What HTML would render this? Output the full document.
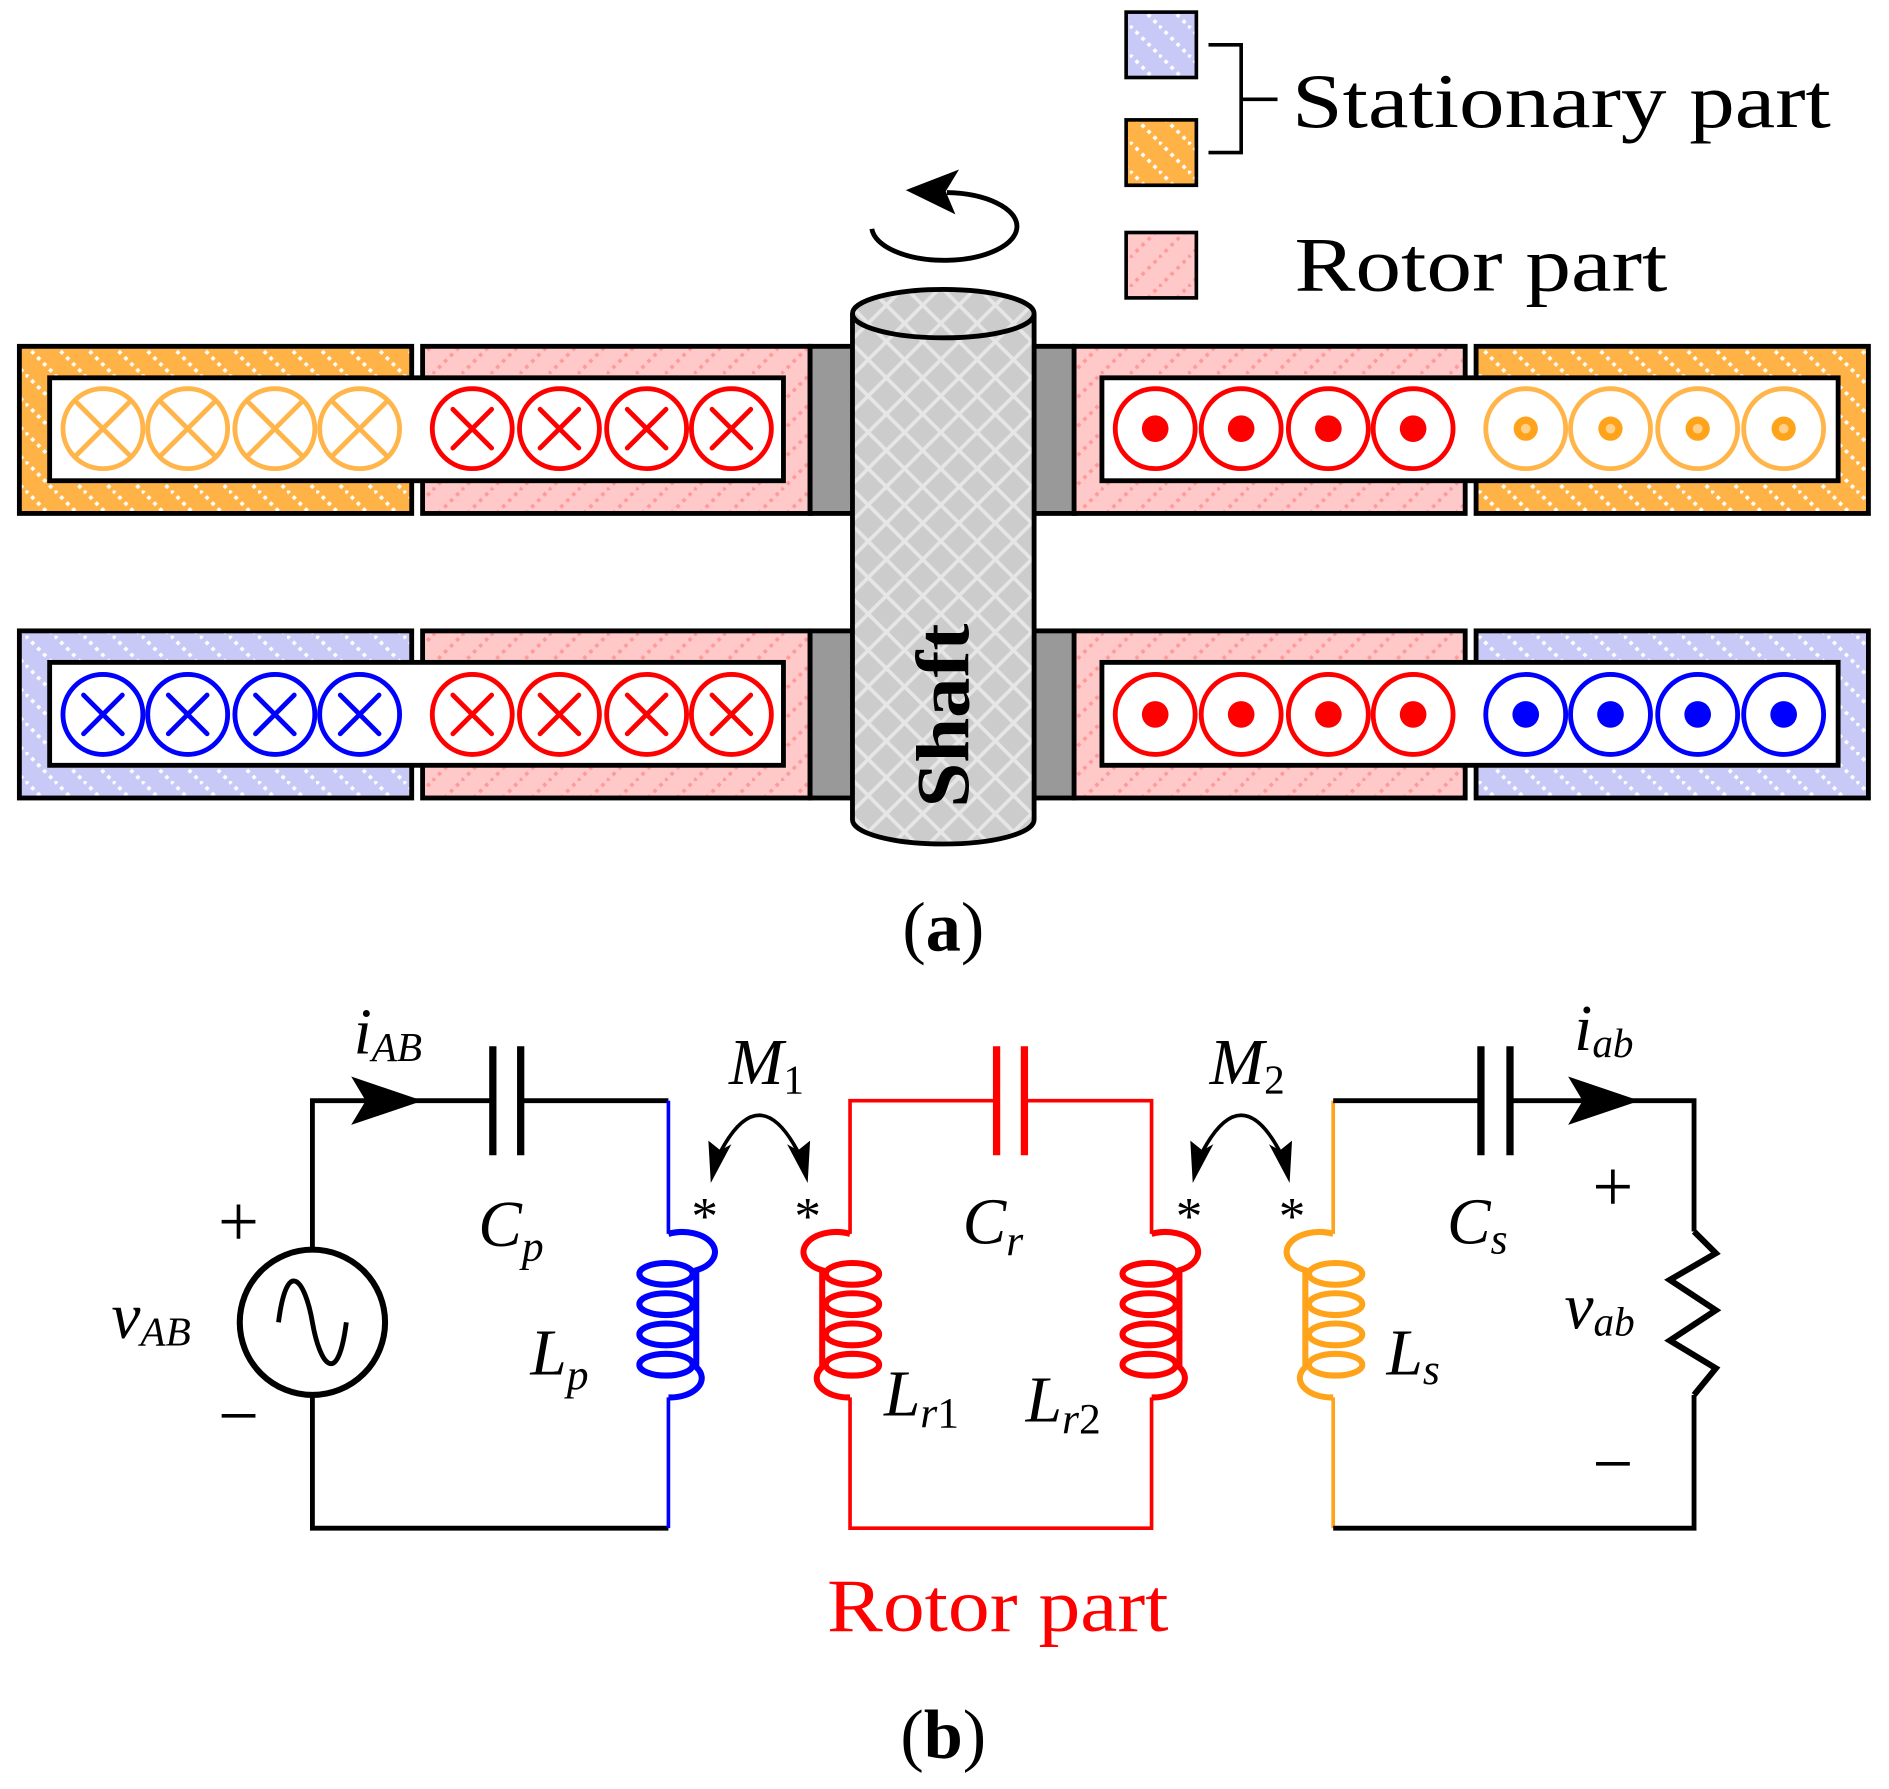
<!DOCTYPE html>
<html><head><meta charset="utf-8"><style>
html,body{margin:0;padding:0;background:#fff}
svg{display:block}
text{font-family:"Liberation Serif",serif}
.m{font-style:italic}
</style></head><body>
<svg width="1889" height="1789" viewBox="0 0 1560 1477.4" xmlns="http://www.w3.org/2000/svg">
<defs>
<pattern id="po" width="24" height="24" patternUnits="userSpaceOnUse"><rect width="24" height="24" fill="#FFB347"/><path d="M0,0 L24,24" stroke="#fff" stroke-width="3" stroke-dasharray="3 4"/></pattern>
<pattern id="pp" width="24" height="24" patternUnits="userSpaceOnUse"><rect width="24" height="24" fill="#FFC9C9"/><path d="M0,24 L24,0" stroke="#FF9A9A" stroke-width="3" stroke-dasharray="3 4"/></pattern>
<pattern id="pb" width="24" height="24" patternUnits="userSpaceOnUse"><rect width="24" height="24" fill="#C9C9F7"/><path d="M0,0 L24,24" stroke="#fff" stroke-width="3" stroke-dasharray="3 4"/></pattern>
<pattern id="ps" width="30" height="30" patternUnits="userSpaceOnUse"><rect width="30" height="30" fill="#CCCCCC"/><path d="M0,30 L30,0 M0,0 L30,30" stroke="#E6E6E6" stroke-width="3"/></pattern>
<g id="coilR" fill="none" stroke-width="5">
<path d="M0,0 A26,16 0 0 1 23,30 L23,110 A26,16 0 0 1 0,135"/>
<ellipse cx="-2" cy="33" rx="22" ry="9"/><ellipse cx="-2" cy="58" rx="22" ry="9"/><ellipse cx="-2" cy="83" rx="22" ry="9"/><ellipse cx="-2" cy="108" rx="22" ry="9"/>
</g>
</defs>
<g transform="translate(-3,-3)">
<!-- legend -->
<rect x="933" y="13" width="58" height="54" fill="url(#pb)" stroke="#000" stroke-width="3"/>
<rect x="933" y="102" width="58" height="54" fill="url(#po)" stroke="#000" stroke-width="3"/>
<rect x="933" y="195" width="58" height="54" fill="url(#pp)" stroke="#000" stroke-width="3"/>
<path d="M1001,40 H1028 V129 H1001 M1028,85 H1058" fill="none" stroke="#000" stroke-width="3"/>
<text x="1070" y="108" font-size="64" textLength="445" lengthAdjust="spacingAndGlyphs">Stationary part</text>
<text x="1072" y="243" font-size="64" textLength="308" lengthAdjust="spacingAndGlyphs">Rotor part</text>

<!-- rotation arrow -->
<path d="M723,192 A60,28 0 1 0 785,162" fill="none" stroke="#000" stroke-width="4"/>
<path d="M751,160 L795,143 L784,161 L792,180 Z" fill="#000"/>

<!-- top row -->
<rect x="19" y="289" width="324" height="138" fill="url(#po)" stroke="#000" stroke-width="4"/>
<rect x="352" y="289" width="320" height="138" fill="url(#pp)" stroke="#000" stroke-width="4"/>
<rect x="672" y="289" width="36" height="138" fill="#999" stroke="#000" stroke-width="4"/>
<rect x="44" y="315" width="606" height="85" fill="#fff" stroke="#000" stroke-width="4"/>
<rect x="890" y="289" width="323" height="138" fill="url(#pp)" stroke="#000" stroke-width="4"/>
<rect x="1222" y="289" width="324" height="138" fill="url(#po)" stroke="#000" stroke-width="4"/>
<rect x="857" y="289" width="33" height="138" fill="#999" stroke="#000" stroke-width="4"/>
<rect x="913" y="315" width="608" height="85" fill="#fff" stroke="#000" stroke-width="4"/>

<!-- bottom row -->
<rect x="19" y="524" width="324" height="138" fill="url(#pb)" stroke="#000" stroke-width="4"/>
<rect x="352" y="524" width="320" height="138" fill="url(#pp)" stroke="#000" stroke-width="4"/>
<rect x="672" y="524" width="36" height="138" fill="#999" stroke="#000" stroke-width="4"/>
<rect x="44" y="550" width="606" height="85" fill="#fff" stroke="#000" stroke-width="4"/>
<rect x="890" y="524" width="323" height="138" fill="url(#pp)" stroke="#000" stroke-width="4"/>
<rect x="1222" y="524" width="324" height="138" fill="url(#pb)" stroke="#000" stroke-width="4"/>
<rect x="857" y="524" width="33" height="138" fill="#999" stroke="#000" stroke-width="4"/>
<rect x="913" y="550" width="608" height="85" fill="#fff" stroke="#000" stroke-width="4"/>

<!-- conductor circles -->
<g fill="none" stroke-width="4" stroke-linecap="round">
<g stroke="#FFB54A">
<circle cx="88" cy="357" r="33"/><circle cx="158" cy="357" r="33"/><circle cx="230" cy="357" r="33"/><circle cx="300" cy="357" r="33"/>
<path d="M65,334 l46,46 m0,-46 l-46,46 M135,334 l46,46 m0,-46 l-46,46 M207,334 l46,46 m0,-46 l-46,46 M277,334 l46,46 m0,-46 l-46,46"/>
<circle cx="1263" cy="357" r="33"/><circle cx="1333" cy="357" r="33"/><circle cx="1405" cy="357" r="33"/><circle cx="1476" cy="357" r="33"/>
</g>
<g stroke="#f00">
<circle cx="393" cy="357" r="33"/><circle cx="465" cy="357" r="33"/><circle cx="537" cy="357" r="33"/><circle cx="607" cy="357" r="33"/>
<path d="M377,341 l32,32 m0,-32 l-32,32 M449,341 l32,32 m0,-32 l-32,32 M521,341 l32,32 m0,-32 l-32,32 M591,341 l32,32 m0,-32 l-32,32"/>
<circle cx="957" cy="357" r="33"/><circle cx="1028" cy="357" r="33"/><circle cx="1100" cy="357" r="33"/><circle cx="1170" cy="357" r="33"/>
<circle cx="393" cy="593" r="33"/><circle cx="465" cy="593" r="33"/><circle cx="537" cy="593" r="33"/><circle cx="607" cy="593" r="33"/>
<path d="M377,577 l32,32 m0,-32 l-32,32 M449,577 l32,32 m0,-32 l-32,32 M521,577 l32,32 m0,-32 l-32,32 M591,577 l32,32 m0,-32 l-32,32"/>
<circle cx="957" cy="593" r="33"/><circle cx="1028" cy="593" r="33"/><circle cx="1100" cy="593" r="33"/><circle cx="1170" cy="593" r="33"/>
</g>
<g stroke="#00f">
<circle cx="88" cy="593" r="33"/><circle cx="158" cy="593" r="33"/><circle cx="230" cy="593" r="33"/><circle cx="300" cy="593" r="33"/>
<path d="M72,577 l32,32 m0,-32 l-32,32 M142,577 l32,32 m0,-32 l-32,32 M214,577 l32,32 m0,-32 l-32,32 M284,577 l32,32 m0,-32 l-32,32"/>
<circle cx="1263" cy="593" r="33"/><circle cx="1333" cy="593" r="33"/><circle cx="1405" cy="593" r="33"/><circle cx="1476" cy="593" r="33"/>
</g>
</g>
<g fill="#f00"><circle cx="957" cy="357" r="11"/><circle cx="1028" cy="357" r="11"/><circle cx="1100" cy="357" r="11"/><circle cx="1170" cy="357" r="11"/>
<circle cx="957" cy="593" r="11"/><circle cx="1028" cy="593" r="11"/><circle cx="1100" cy="593" r="11"/><circle cx="1170" cy="593" r="11"/></g>
<g fill="#FFA31A"><circle cx="1263" cy="357" r="10"/><circle cx="1333" cy="357" r="10"/><circle cx="1405" cy="357" r="10"/><circle cx="1476" cy="357" r="10"/></g>
<g fill="#FFD08A"><circle cx="1263" cy="357" r="4"/><circle cx="1333" cy="357" r="4"/><circle cx="1405" cy="357" r="4"/><circle cx="1476" cy="357" r="4"/></g>
<g fill="#00f"><circle cx="1263" cy="593" r="11"/><circle cx="1333" cy="593" r="11"/><circle cx="1405" cy="593" r="11"/><circle cx="1476" cy="593" r="11"/></g>

<!-- shaft -->
<path d="M707,262 V680 A75,20 0 0 0 857,680 V262" fill="url(#ps)" stroke="#000" stroke-width="4"/>
<ellipse cx="782" cy="262" rx="75" ry="20" fill="url(#ps)" stroke="#000" stroke-width="4"/>
<text transform="translate(803,670) rotate(-90)" font-size="62" font-weight="bold" textLength="152" lengthAdjust="spacingAndGlyphs">Shaft</text>

<text x="782" y="788" font-size="58" text-anchor="middle">(<tspan font-weight="bold">a</tspan>)</text>

<!-- circuit -->
<g fill="none" stroke-width="4">
<path d="M555,912 H433 M410,912 H261 V1035 M261,1155 V1265 H555" stroke="#000"/>
<path d="M410,867 V957 M433,867 V957" stroke="#000" stroke-width="6"/>
<circle cx="261" cy="1095" r="60" stroke="#000" stroke-width="5"/>
<path d="M233,1095 C240,1040 255,1060 261,1095 C267,1130 282,1150 289,1095" stroke="#000" stroke-width="4"/>
<path d="M555,912 V1022 M555,1157 V1265" stroke="#00f" stroke-width="3"/>
<path d="M705,1022 V912 H826 M849,912 H954 V1022 M705,1157 V1265 H954 V1157" stroke="#f00" stroke-width="3"/>
<path d="M826,867 V957 M849,867 V957" stroke="#f00" stroke-width="6"/>
<path d="M1104,1022 V912" stroke="#FFA31A" stroke-width="3"/>
<path d="M1104,1157 V1265" stroke="#FFA31A" stroke-width="3"/>
<path d="M1104,912 H1226 M1250,912 H1402 V1020 M1402,1155 V1265 H1104" stroke="#000"/>
<path d="M1226,867 V957 M1250,867 V957" stroke="#000" stroke-width="6"/>
<path d="M1402,1020 L1420,1038 L1382,1060 L1420,1085 L1382,1110 L1420,1133 L1402,1155" stroke="#000" stroke-width="5"/>
</g>
<use href="#coilR" transform="translate(555,1022)" stroke="#00f"/>
<use href="#coilR" transform="translate(705,1022) scale(-1,1)" stroke="#f00"/>
<use href="#coilR" transform="translate(954,1022)" stroke="#f00"/>
<use href="#coilR" transform="translate(1104,1022) scale(-1,1)" stroke="#FFA31A"/>

<path d="M352,912 L293,892 L305,912 L293,932 Z" fill="#000"/>
<path d="M1357,912 L1298,892 L1310,912 L1298,932 Z" fill="#000"/>

<g fill="none" stroke="#000" stroke-width="3">
<path d="M596,958 Q630,890 664,958"/>
<path d="M994,958 Q1028,890 1062,958"/>
</g>
<g fill="#000">
<path d="M590,980 L588,945 L598,953 L607,948 Z"/>
<path d="M670,980 L672,945 L662,953 L653,948 Z"/>
<path d="M988,980 L986,945 L996,953 L1005,948 Z"/>
<path d="M1068,980 L1070,945 L1060,953 L1051,948 Z"/>
</g>

<g font-size="54">
<text x="295" y="873" class="m">i<tspan font-size="34" dy="6">AB</tspan></text>
<text x="398" y="1032" class="m">C<tspan font-size="36" dy="12">p</tspan></text>
<text x="441" y="1138" class="m">L<tspan font-size="36" dy="12">p</tspan></text>
<text x="95" y="1108" class="m">v<tspan font-size="34" dy="6">AB</tspan></text>
<text x="200" y="1032" font-size="60" text-anchor="middle">+</text>
<text x="200" y="1192" font-size="60" text-anchor="middle">−</text>
<text x="605" y="898" class="m">M<tspan font-size="34" dy="8" font-style="normal">1</tspan></text>
<text x="1002" y="898" class="m">M<tspan font-size="34" dy="8" font-style="normal">2</tspan></text>
<text x="585" y="1022" font-size="44" text-anchor="middle">*</text>
<text x="670" y="1022" font-size="44" text-anchor="middle">*</text>
<text x="985" y="1022" font-size="44" text-anchor="middle">*</text>
<text x="1070" y="1022" font-size="44" text-anchor="middle">*</text>
<text x="798" y="1030" class="m">C<tspan font-size="36" dy="10">r</tspan></text>
<text x="733" y="1172" class="m">L<tspan font-size="36" dy="10">r</tspan><tspan font-size="36" font-style="normal">1</tspan></text>
<text x="850" y="1177" class="m">L<tspan font-size="36" dy="10">r</tspan><tspan font-size="36" font-style="normal">2</tspan></text>
<text x="1148" y="1138" class="m">L<tspan font-size="36" dy="8">s</tspan></text>
<text x="1198" y="1030" class="m">C<tspan font-size="36" dy="8">s</tspan></text>
<text x="1303" y="870" class="m">i<tspan font-size="34" dy="6">ab</tspan></text>
<text x="1335" y="1003" font-size="60" text-anchor="middle">+</text>
<text x="1295" y="1100" class="m">v<tspan font-size="34" dy="6">ab</tspan></text>
<text x="1335" y="1232" font-size="60" text-anchor="middle">−</text>
</g>
<text x="686" y="1350" font-size="62" fill="#f00" textLength="282" lengthAdjust="spacingAndGlyphs">Rotor part</text>
<text x="782" y="1455" font-size="58" text-anchor="middle">(<tspan font-weight="bold">b</tspan>)</text>
</g>
</svg>
</body></html>
